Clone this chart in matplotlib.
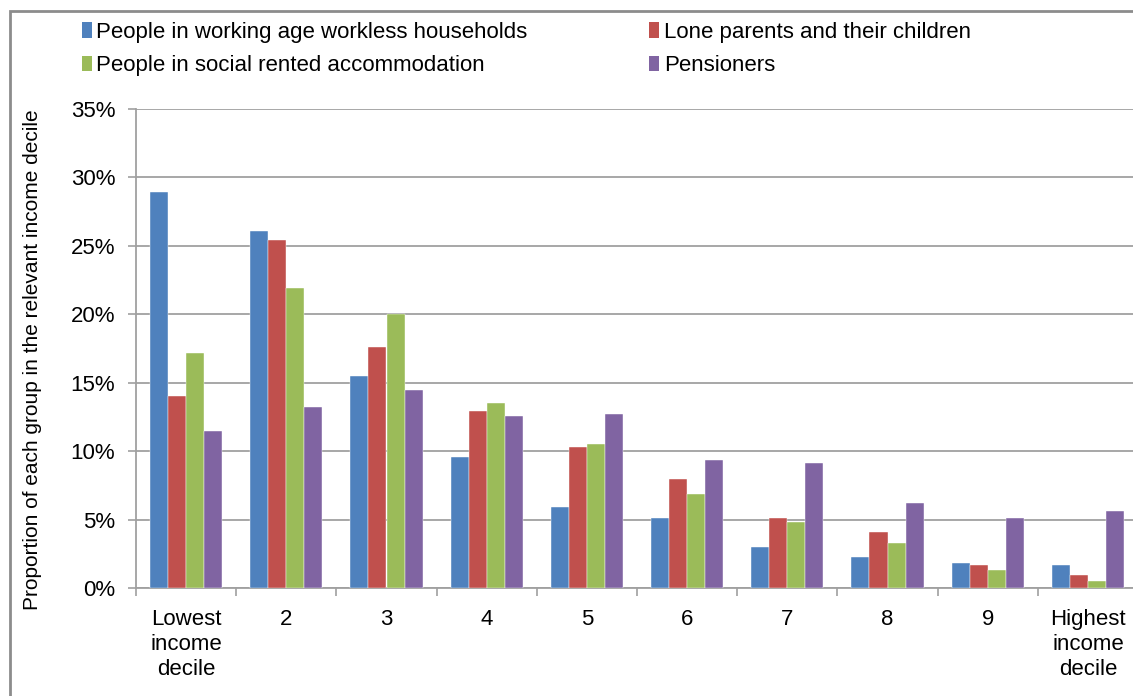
import matplotlib
matplotlib.use('Agg')
import matplotlib.pyplot as plt
from matplotlib.patches import Rectangle, Patch
import numpy as np

plt.rcParams['font.family'] = ['Liberation Sans', 'DejaVu Sans']

categories = ['Lowest\nincome\ndecile', '2', '3', '4', '5', '6', '7', '8', '9', 'Highest\nincome\ndecile']
labels = ['People in working age workless households', 'Lone parents and their children',
          'People in social rented accommodation', 'Pensioners']
colors = ['#4F81BD', '#C0504D', '#9BBB59', '#8064A2']

workless = [28.9, 26.1, 15.5, 9.6, 5.95, 5.1, 3.0, 2.3, 1.8, 1.7]
lone_parents = [14.0, 25.4, 17.6, 12.9, 10.3, 8.0, 5.1, 4.1, 1.7, 0.95]
social_rented = [17.2, 21.9, 20.0, 13.5, 10.55, 6.9, 4.85, 3.3, 1.3, 0.5]
pensioners = [11.5, 13.2, 14.5, 12.6, 12.7, 9.35, 9.1, 6.2, 5.1, 5.6]
series = [workless, lone_parents, social_rented, pensioners]

fig = plt.figure(figsize=(11.33, 6.96), dpi=100)
ax = fig.add_axes([136 / 1133, 108 / 696, 1002 / 1133, 479 / 696])

x = np.arange(len(categories))
w = 0.18
for i, vals in enumerate(series):
    ax.bar(x + (i - 1.5) * w, vals, width=w, color=colors[i], label=labels[i],
           edgecolor='white', linewidth=0.3, zorder=3)

ax.set_xlim(-0.5, 9.5)
ax.set_ylim(0, 35)
ax.set_yticks(np.arange(0, 36, 5))
ax.set_yticklabels(['%d%%' % v for v in range(0, 36, 5)], fontsize=16)
ax.yaxis.grid(True, color='#a0a0a0', linewidth=1.3, zorder=0)

ax.set_xticks(x)
ax.set_xticklabels(categories, fontsize=16, linespacing=1.25)
ax.set_xticks(np.arange(-0.5, 9.6, 1), minor=True)
ax.tick_params(axis='x', which='major', length=0, pad=15)
ax.tick_params(axis='x', which='minor', length=6, color='#a0a0a0', width=1.2)
ax.tick_params(axis='y', length=6, color='#a0a0a0', width=1.2, pad=9)

for s in ['top', 'right']:
    ax.spines[s].set_visible(False)
for s in ['left', 'bottom']:
    ax.spines[s].set_color('#a0a0a0')
    ax.spines[s].set_linewidth(1.3)

ax.set_ylabel('Proportion of each group in the relevant income decile', fontsize=15)
ax.yaxis.set_label_coords(-0.094, 0.476)

order = [0, 2, 1, 3]
handles = [Patch(facecolor=colors[i]) for i in order]
fig.legend(handles, [labels[i] for i in order], ncol=2, loc='upper left',
           bbox_to_anchor=(62 / 1133, 1 - 2 / 696), frameon=False, fontsize=16,
           handlelength=0.45, handleheight=0.7, handletextpad=0.2,
           columnspacing=5.47, labelspacing=0.55)

fig.patches.append(Rectangle((10 / 1133, -0.05), 1.1, 1.05 - 11 / 696, transform=fig.transFigure,
                             fill=False, edgecolor='#8c8c8c', linewidth=2))

fig.savefig('out.png', dpi=100)
